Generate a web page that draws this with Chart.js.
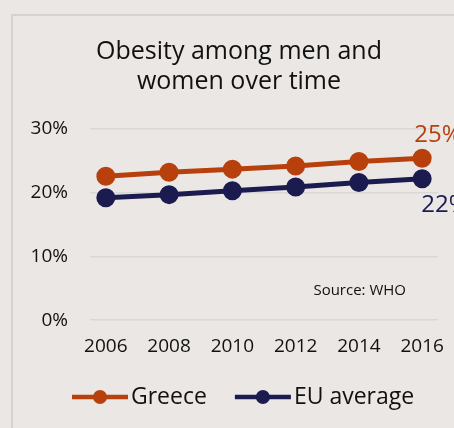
<!DOCTYPE html>
<html>
<head>
<meta charset="utf-8">
<script src="https://cdn.jsdelivr.net/npm/chart.js@4/dist/chart.umd.min.js"></script>
<style>
  html, body { margin: 0; padding: 0; background: #ebe7e4; }
  #wrap { position: relative; width: 454px; height: 428px; overflow: hidden; }
  #frame {
    position: absolute; left: 11px; top: 14px; width: 500px; height: 500px;
    border-left: 2px solid #d6d2cf; border-top: 2px solid #d6d2cf;
  }
  #chart { position: absolute; left: 0; top: 0; }
</style>
</head>
<body>
<div id="wrap">
  <div id="frame"></div>
  <canvas id="chart" width="454" height="428"></canvas>
</div>
<script>
const TITLE_LINES = ['Obesity among men and', 'women over time'];
const YEARS = [2006, 2008, 2010, 2012, 2014, 2016];
const GREECE = [22.6, 23.2, 23.7, 24.2, 24.9, 25.4];
const EU_AVG = [19.2, 19.7, 20.3, 20.9, 21.6, 22.2];
const Y_TICKS = [0, 10, 20, 30];

const FONT = "'Open Sans', sans-serif";
const ORANGE = '#b8400c';
const NAVY = '#1c1b50';

const toPoints = (vals) => vals.map((v, i) => ({ x: YEARS[i], y: v }));

// two-line heading, centred over the framed panel
const heading = {
  id: 'heading',
  afterDraw(chart) {
    const { ctx } = chart;
    ctx.save();
    ctx.font = `25px ${FONT}`;
    ctx.fillStyle = '#111';
    ctx.textAlign = 'center';
    ctx.textBaseline = 'middle';
    TITLE_LINES.forEach((line, i) => ctx.fillText(line, 239, 52 + i * 30));
    ctx.restore();
  }
};

// value of the last point, written next to it
const endLabels = {
  id: 'endLabels',
  afterDatasetsDraw(chart) {
    const { ctx } = chart;
    ctx.save();
    ctx.font = `24px ${FONT}`;
    ctx.textBaseline = 'middle';
    ctx.textAlign = 'left';
    chart.data.datasets.forEach((ds, i) => {
      const meta = chart.getDatasetMeta(i);
      const pt = meta.data[meta.data.length - 1];
      const val = ds.data[ds.data.length - 1].y;
      ctx.fillStyle = ds.borderColor;
      const dx = i === 0 ? -8 : -1;
      const dy = i === 0 ? -23 : 26;
      ctx.fillText(Math.round(val) + '%', pt.x + dx, pt.y + dy);
    });
    ctx.restore();
  }
};

const sourceNote = {
  id: 'sourceNote',
  afterDraw(chart) {
    const { ctx, chartArea } = chart;
    ctx.save();
    ctx.font = `15px ${FONT}`;
    ctx.fillStyle = '#111';
    ctx.textAlign = 'right';
    ctx.textBaseline = 'middle';
    ctx.fillText('Source: WHO', chartArea.right - 32, chartArea.bottom - 29);
    ctx.restore();
  }
};

// legend row under the axis: line-with-dot marker followed by the series name
const lineLegend = {
  id: 'lineLegend',
  afterDraw(chart) {
    const { ctx } = chart;
    const y = 397;
    let x = 72;
    ctx.save();
    ctx.font = `23px ${FONT}`;
    ctx.textBaseline = 'middle';
    ctx.textAlign = 'left';
    chart.data.datasets.forEach((ds) => {
      ctx.strokeStyle = ds.borderColor;
      ctx.lineWidth = 4.5;
      ctx.beginPath();
      ctx.moveTo(x, y);
      ctx.lineTo(x + 56, y);
      ctx.stroke();
      ctx.fillStyle = ds.borderColor;
      ctx.beginPath();
      ctx.arc(x + 28, y, 7, 0, Math.PI * 2);
      ctx.fill();
      ctx.fillStyle = '#111';
      ctx.fillText(ds.label, x + 59, y);
      x += 59 + ctx.measureText(ds.label).width + 28;
    });
    ctx.restore();
  }
};

new Chart(document.getElementById('chart'), {
  type: 'line',
  data: {
    datasets: [
      {
        label: 'Greece',
        data: toPoints(GREECE),
        borderColor: ORANGE,
        backgroundColor: ORANGE,
        borderWidth: 5,
        pointRadius: 7,
        pointHoverRadius: 7,
      },
      {
        label: 'EU average',
        data: toPoints(EU_AVG),
        borderColor: NAVY,
        backgroundColor: NAVY,
        borderWidth: 5,
        pointRadius: 7,
        pointHoverRadius: 7,
      },
    ],
  },
  options: {
    responsive: false,
    animation: false,
    layout: { padding: { left: 0, right: 16, top: 129, bottom: 55 } },
    plugins: {
      title: { display: false },
      legend: { display: false },
      tooltip: { enabled: false },
    },
    scales: {
      x: {
        type: 'linear',
        min: 2005.5,
        max: 2016.5,
        afterBuildTicks: (axis) => { axis.ticks = YEARS.map((v) => ({ value: v })); },
        // the half-year margin already leaves room for the end labels
        afterFit: (scale) => { scale.paddingLeft = 6; scale.paddingRight = 6; },
        grid: { display: false, drawTicks: false },
        border: { display: false },
        ticks: {
          color: '#111',
          font: { family: FONT, size: 19 },
          padding: 15,
          callback: (v) => String(v),
        },
      },
      y: {
        min: 0,
        max: 30,
        afterBuildTicks: (axis) => { axis.ticks = Y_TICKS.map((v) => ({ value: v })); },
        afterFit: (scale) => { scale.width = 90; },
        grid: { color: '#d9d8d8', lineWidth: 1.5, drawTicks: false },
        border: { display: false },
        ticks: {
          color: '#111',
          font: { family: FONT, size: 19 },
          padding: 22,
          callback: (v) => v + '%',
        },
      },
    },
  },
  plugins: [heading, endLabels, sourceNote, lineLegend],
});
</script>
</body>
</html>
